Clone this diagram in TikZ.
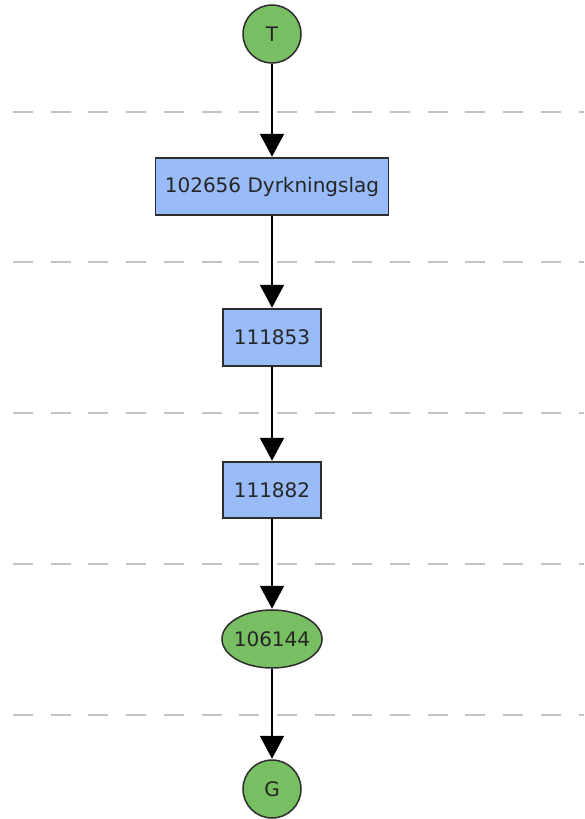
\documentclass[tikz,border=0pt]{standalone}
\usepackage{fontspec}
\setmainfont{DejaVu Sans}
\usetikzlibrary{shapes.geometric,arrows.meta}
\definecolor{nodegreen}{RGB}{120,190,98}
\definecolor{nodeblue}{RGB}{153,188,248}
\definecolor{bordergray}{RGB}{45,45,45}
\definecolor{sepgray}{RGB}{195,195,195}
\tikzset{
  every node/.style={font=\fontsize{20}{23}\selectfont, text=black!85},
  termnode/.style={circle, draw=bordergray, line width=1.5pt, fill=nodegreen, minimum size=58pt, inner sep=0pt},
  ovalnode/.style={ellipse, draw=bordergray, line width=1.5pt, fill=nodegreen, minimum width=100pt, minimum height=58pt, inner sep=0pt},
  boxnode/.style={rectangle, draw=bordergray, line width=1.5pt, fill=nodeblue, minimum height=57pt, inner sep=0pt},
  sepline/.style={draw=sepgray, line width=2pt, dash pattern=on 20pt off 17.7pt},
  conn/.style={draw=black, line width=2pt, -{Triangle[width=24pt,length=23pt]}, shorten >=0.5pt}
}
\begin{document}
\begin{tikzpicture}[x=1pt,y=-1pt]
\useasboundingbox (0,0) rectangle (584,819);
\fill[white] (0,0) rectangle (584,819);
% separators
\foreach \yy in {111.5,262,412.5,564,715}{
  \path[sepline] (13,\yy) -- (584,\yy);
}
\node[termnode] (T) at (272,34) {T};
\node[boxnode, minimum width=233pt] (b1) at (272,186.5) {102656 Dyrkningslag};
\node[boxnode, minimum width=98pt] (b2) at (272,337.5) {111853};
\node[boxnode, minimum width=98pt, minimum height=56pt] (b3) at (272,490) {111882};
\node[ovalnode] (o1) at (272,639) {\makebox[0pt][c]{106144}};
\node[termnode] (G) at (272,789) {G};
\draw[conn] (T) -- (b1);
\draw[conn] (b1) -- (b2);
\draw[conn] (b2) -- (b3);
\draw[conn] (b3) -- (o1);
\draw[conn] (o1) -- (G);
\end{tikzpicture}
\end{document}
